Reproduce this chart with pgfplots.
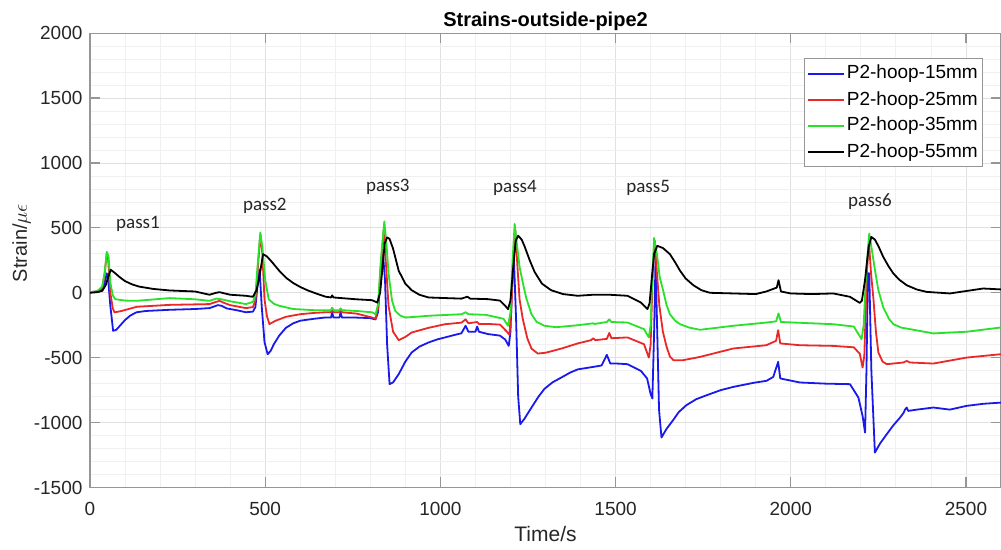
\documentclass[border=0pt]{standalone}
\usepackage{fontspec}
\setmainfont{Liberation Sans}
\newfontfamily\calib{Carlito}
\usepackage{pgfplots}
\pgfplotsset{compat=1.18}
\definecolor{axgray}{RGB}{150,150,150}
\definecolor{mblue}{RGB}{25,25,235}
\definecolor{mred}{RGB}{235,40,40}
\definecolor{mgreen}{RGB}{40,225,40}
\begin{document}
\begin{tikzpicture}
\begin{axis}[
  at={(0,0)}, anchor=south west,
  scale only axis, width=455.5pt, height=227.15pt,
  xmin=0, xmax=2600, ymin=-1500, ymax=2000,
  xtick={0,500,...,2500}, ytick={-1500,-1000,...,2000},
  minor x tick num=4, minor y tick num=4,
  grid=both,
  major grid style={black!12, line width=0.4pt},
  minor grid style={black!6, line width=0.4pt},
  tick align=inside, major tick length=5pt, minor tick length=0pt,
  axis line style={axgray, line width=0.6pt},
  tick style={axgray, line width=0.6pt},
  /pgf/number format/assume math mode=true,
  /pgf/number format/1000 sep={},
  scaled ticks=false,
  ticklabel style={font=\fontsize{9.5}{11}\selectfont, text=black!85},
  xticklabel style={anchor=base, yshift=-13.85pt},
  yticklabel style={anchor=east, inner sep=0pt, xshift=-3.6pt},
  title={Strains-outside-pipe2},
  every axis title/.style={font=\fontsize{10}{12}\selectfont\bfseries, at={(axis description cs:0.5,1.0154)}, anchor=base},
  xlabel={Time/s},
  xlabel style={font=\fontsize{10.5}{12}\selectfont, text=black!85, at={(axis description cs:0.5,-0.1184)}, anchor=base},
  ylabel={Strain/$\mu\epsilon$},
  ylabel style={font=\fontsize{10}{12}\selectfont, text=black!85, at={(axis description cs:-0.0694,0.538)}, anchor=base},
  legend style={at={(axis description cs:0.9806,0.9443)}, anchor=north east, draw=axgray, fill=white, line width=0.5pt,
    font=\fontsize{9.5}{11}\selectfont, inner xsep=1.5pt, inner ysep=1pt,
    nodes={text height=7pt, text depth=2pt, inner ysep=2pt, inner xsep=1pt}},
  legend cell align=left,
  legend image code/.code={\draw[#1] (0pt,0pt) -- (18pt,0pt);},
  every axis plot/.append style={no markers, line width=0.9pt, line join=round},
]
\addplot[mblue] coordinates {
(0,5) (20,10) (35,30) (42,80) (48,150) (52,100) (58,-100) (66,-293) (75,-285) (85,-255) (100,-210) (115,-175) (133,-150) (160,-140) (227,-131) (300,-125) (341,-118) (355,-105) (365,-95) (375,-100) (390,-120) (420,-135) (445,-150) (465,-145) (472,-110) (478,50) (484,180) (490,-100) (498,-380) (507,-473) (515,-450) (525,-395) (540,-330) (559,-270) (580,-235) (600,-215) (640,-200) (672,-190) (688,-190) (691,-150) (695,-190) (712,-190) (715,-150) (719,-190) (750,-190) (800,-195) (815,-205) (822,-150) (829,105) (836,300) (842,100) (848,-400) (855,-704) (865,-690) (881,-627) (900,-530) (918,-460) (940,-415) (966,-383) (990,-360) (1013,-344) (1040,-325) (1060,-312) (1072,-254) (1080,-300) (1100,-300) (1105,-260) (1110,-300) (1136,-318) (1170,-330) (1185,-360) (1195,-409) (1200,-300) (1205,100) (1210,250) (1216,-200) (1222,-800) (1228,-1012) (1240,-970) (1260,-884) (1280,-800) (1297,-740) (1320,-690) (1345,-653) (1370,-615) (1392,-590) (1436,-571) (1460,-560) (1475,-478) (1485,-545) (1503,-545) (1534,-550) (1572,-601) (1590,-660) (1600,-780) (1605,-814) (1610,-300) (1614,250) (1618,-200) (1624,-900) (1631,-1115) (1645,-1050) (1664,-982) (1680,-920) (1702,-866) (1730,-820) (1760,-789) (1800,-750) (1836,-725) (1893,-694) (1931,-678) (1950,-648) (1964,-532) (1970,-660) (2026,-691) (2100,-700) (2169,-704) (2193,-807) (2205,-950) (2212,-1077) (2216,-600) (2220,150) (2224,150) (2230,-600) (2240,-1231) (2255,-1160) (2274,-1089) (2293,-1020) (2312,-961) (2322,-925) (2326,-900) (2331,-884) (2335,-910) (2360,-900) (2407,-884) (2454,-900) (2502,-871) (2550,-855) (2600,-846)
};
\addlegendentry{P2-hoop-15mm}
\addplot[mred] coordinates {
(0,5) (20,10) (35,40) (42,150) (48,310) (52,250) (58,0) (65,-120) (70,-151) (90,-140) (133,-108) (227,-93) (341,-87) (360,-70) (370,-62) (380,-75) (400,-95) (445,-118) (465,-110) (472,-60) (478,150) (486,450) (492,300) (498,-50) (505,-180) (512,-241) (530,-215) (559,-185) (600,-165) (640,-155) (672,-150) (688,-150) (691,-120) (695,-150) (712,-150) (715,-125) (719,-150) (760,-160) (805,-190) (815,-200) (822,-120) (830,200) (838,480) (844,250) (852,-100) (865,-300) (881,-365) (900,-340) (918,-306) (966,-270) (1013,-242) (1060,-230) (1072,-205) (1080,-235) (1105,-225) (1110,-240) (1136,-240) (1170,-245) (1190,-300) (1197,-324) (1202,-150) (1208,200) (1214,478) (1220,200) (1226,-50) (1235,-200) (1248,-350) (1260,-430) (1278,-468) (1300,-462) (1345,-430) (1392,-390) (1430,-365) (1436,-350) (1442,-365) (1475,-355) (1482,-309) (1488,-350) (1534,-344) (1581,-396) (1595,-499) (1600,-400) (1606,150) (1612,400) (1618,150) (1625,-100) (1635,-300) (1646,-420) (1655,-490) (1665,-519) (1693,-519) (1741,-494) (1836,-429) (1930,-404) (1958,-370) (1964,-288) (1970,-390) (2026,-404) (2121,-409) (2180,-420) (2197,-470) (2205,-576) (2210,-480) (2217,150) (2223,400) (2229,150) (2236,-50) (2243,-300) (2250,-460) (2262,-530) (2274,-550) (2321,-537) (2331,-525) (2340,-537) (2407,-545) (2502,-499) (2600,-473)
};
\addlegendentry{P2-hoop-25mm}
\addplot[mgreen] coordinates {
(0,5) (20,10) (35,50) (42,160) (48,315) (53,280) (58,80) (65,-20) (72,-49) (100,-60) (133,-62) (227,-41) (300,-50) (341,-62) (360,-45) (375,-50) (400,-65) (445,-87) (465,-70) (472,-20) (478,200) (486,465) (492,350) (500,100) (510,-50) (525,-85) (540,-100) (580,-125) (640,-134) (688,-134) (691,-115) (695,-134) (712,-134) (715,-120) (719,-134) (760,-140) (805,-150) (815,-165) (822,-90) (830,250) (840,550) (846,380) (852,150) (862,-60) (871,-139) (885,-175) (900,-190) (930,-185) (966,-177) (1061,-165) (1072,-150) (1080,-165) (1130,-170) (1180,-200) (1193,-254) (1200,-150) (1206,250) (1212,530) (1218,380) (1226,200) (1235,80) (1245,-40) (1260,-165) (1275,-225) (1297,-254) (1330,-265) (1392,-250) (1436,-235) (1440,-240) (1475,-225) (1482,-205) (1488,-225) (1534,-229) (1581,-280) (1595,-344) (1600,-250) (1605,150) (1610,422) (1618,300) (1626,120) (1636,15) (1645,-90) (1655,-165) (1670,-215) (1684,-242) (1710,-268) (1741,-285) (1836,-254) (1931,-229) (1958,-220) (1965,-159) (1972,-225) (2121,-242) (2180,-260) (2202,-357) (2208,-250) (2215,150) (2224,457) (2232,320) (2240,180) (2250,20) (2264,-113) (2280,-200) (2293,-242) (2315,-268) (2340,-280) (2407,-313) (2502,-300) (2600,-267)
};
\addlegendentry{P2-hoop-35mm}
\addplot[black] coordinates {
(0,0) (20,5) (35,15) (45,60) (52,120) (59,177) (70,155) (85,120) (100,90) (120,65) (140,48) (180,30) (227,18) (300,10) (341,-15) (360,0) (370,5) (380,-2) (400,-15) (445,-23) (465,-31) (475,20) (482,100) (488,200) (494,298) (505,280) (520,235) (540,170) (560,115) (580,75) (600,45) (620,20) (650,-10) (672,-30) (688,-36) (691,-20) (695,-36) (760,-50) (805,-57) (820,-75) (828,0) (835,200) (841,380) (848,427) (855,415) (865,340) (881,170) (900,70) (918,20) (940,-15) (966,-36) (1060,-45) (1077,-30) (1085,-45) (1136,-49) (1170,-60) (1185,-100) (1193,-126) (1200,-60) (1208,200) (1215,400) (1222,440) (1232,410) (1240,360) (1255,250) (1269,160) (1290,70) (1316,20) (1350,-10) (1392,-23) (1436,-15) (1482,-15) (1534,-23) (1572,-75) (1591,-126) (1597,-80) (1603,100) (1610,300) (1619,362) (1635,345) (1655,298) (1670,235) (1684,170) (1700,110) (1722,58) (1745,20) (1769,0) (1836,-5) (1900,-10) (1930,10) (1960,40) (1965,97) (1972,10) (2000,-5) (2060,-10) (2121,-5) (2169,-31) (2197,-78) (2203,-60) (2212,100) (2222,350) (2230,430) (2240,410) (2250,360) (2264,276) (2280,200) (2293,148) (2310,100) (2331,58) (2360,25) (2388,7) (2454,-5) (2549,33) (2600,26)
};
\addlegendentry{P2-hoop-55mm}
\node[font=\calib\fontsize{9.5}{11}\selectfont, text=black!85, anchor=base] at (axis cs:137,495) {pass1};
\node[font=\calib\fontsize{9.5}{11}\selectfont, text=black!85, anchor=base] at (axis cs:499,636) {pass2};
\node[font=\calib\fontsize{9.5}{11}\selectfont, text=black!85, anchor=base] at (axis cs:850,777) {pass3};
\node[font=\calib\fontsize{9.5}{11}\selectfont, text=black!85, anchor=base] at (axis cs:1213,770) {pass4};
\node[font=\calib\fontsize{9.5}{11}\selectfont, text=black!85, anchor=base] at (axis cs:1593,775) {pass5};
\node[font=\calib\fontsize{9.5}{11}\selectfont, text=black!85, anchor=base] at (axis cs:2226,667) {pass6};
\end{axis}
\pgfresetboundingbox
\path[use as bounding box] (-45pt,-30.85pt) rectangle (455.5pt,243.75pt);
\end{tikzpicture}
\end{document}
